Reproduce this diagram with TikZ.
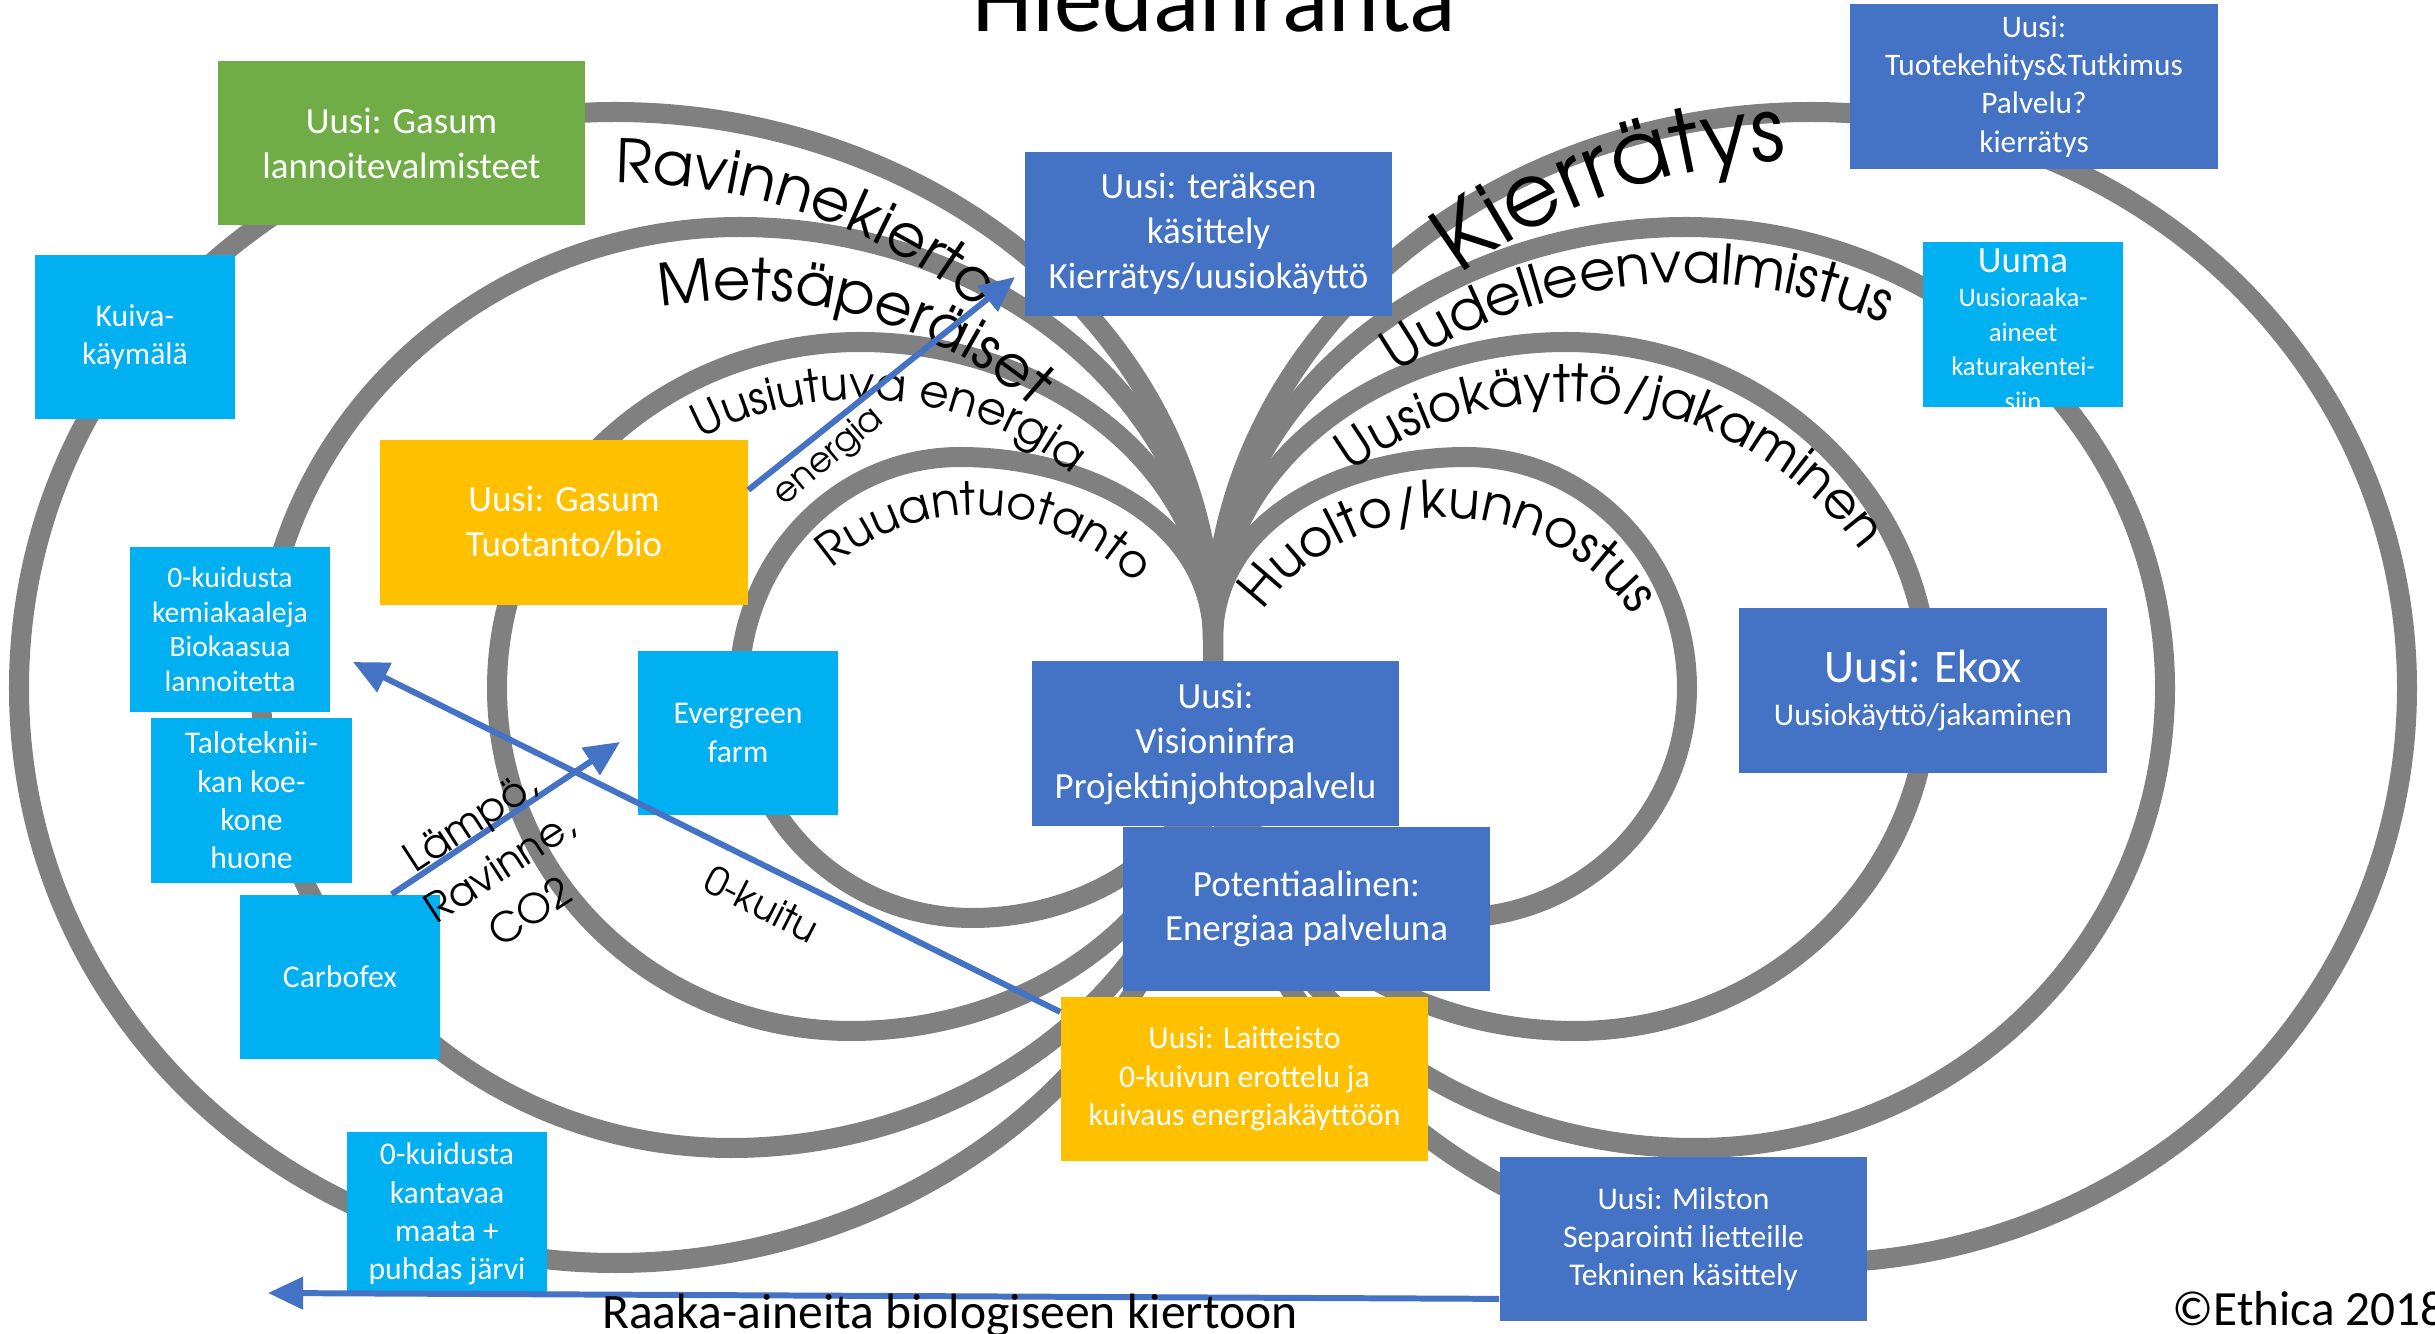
\documentclass[tikz,border=0pt]{standalone}
\usepackage{fontspec}
\setmainfont{Carlito}
\newfontfamily\gothic{TeX Gyre Adventor}
\usepackage{tikz}
\usetikzlibrary{arrows.meta,decorations.text}

\definecolor{loopgrey}{HTML}{808080}
\definecolor{ppblue}{HTML}{4472C4}
\definecolor{ppcyan}{HTML}{00B0F0}
\definecolor{ppgold}{HTML}{FFC000}
\definecolor{ppgreen}{HTML}{70AD47}

\tikzstyle{loopline} = [draw=loopgrey, line width=2mm]
\tikzstyle{pbox} = [rectangle, inner sep=0pt, text=white, align=center, minimum height=16.4mm]
\tikzstyle{widebox} = [pbox, minimum width=36.7mm]
\tikzstyle{narrowbox} = [pbox, minimum width=20mm]
\tikzstyle{flow} = [draw=ppblue, line width=1.7pt, -{Triangle[length=10pt,width=9pt]}]
\tikzstyle{flowlabel} = [inner sep=0pt, align=center, font=\gothic\fontsize{11.5}{15.5}\selectfont]

\newcommand{\bsize}[2]{\fontsize{#1}{#2}\selectfont}
% one figure-eight: top offset, top y, side offset, bottom offset, bottom y
\newcommand{\eightloop}[5]{
	\draw[loopline] (1213,720) -- (1213,640) to[out=90,in=0] ({1213-#1},#2) to[out=180,in=90] ({1213-#3},688)
		to[out=270,in=180] ({1213-#4},#5) to[out=0,in=270] (1213,720) -- (1213,640)
		to[out=90,in=180] ({1213+#1},#2) to[out=0,in=90] ({1213+#3},688)
		to[out=270,in=0] ({1213+#4},#5) to[out=180,in=270] (1213,720);
}
% text on an elliptic arc: cx, cy, rx, ry, start, end, size, text
\newcommand{\arclabel}[8]{
	\path[decorate, decoration={text along path, text align=left, text={|\gothic\fontsize{#7}{#7}\selectfont|#8}}]
		({#1+#3*cos(#5)}, {#2+#4*sin(#5)}) arc[start angle={-(#5)}, end angle={-(#6)}, x radius={#3*0.01cm}, y radius={#4*0.01cm}];
}

\begin{document}
\begin{tikzpicture}[x=0.01cm, y=-0.01cm]
	\useasboundingbox (0,0) rectangle (2435,1334);

	\eightloop{598}{112}{1194}{598}{1263}
	\eightloop{473}{227}{952}{482}{1148}
	\eightloop{353}{342}{716}{362}{1031}
	\eightloop{253}{457}{474}{241}{918}

	\arclabel{615}{640}{527}{457}{-90}{-10}{17}{Ravinnekierto}
	\arclabel{740}{640}{400}{340}{-101.5}{-5}{16.5}{Metsäperäiset}
	\arclabel{860}{655}{300}{255}{-122}{-10}{12.9}{Uusiutuva energia}
	\arclabel{975}{734}{219}{219}{-131}{-20}{13}{Ruuantuotanto}
	\arclabel{1811}{640}{540}{480}{-130.5}{-40}{25}{Kierrätys}
	\arclabel{1686}{795}{512}{512}{-124.4}{-30}{15.8}{Uudelleenvalmistus}
	\arclabel{1566}{768}{366}{366}{-126}{0}{14.6}{Uusiokäyttö/jakaminen}
	\arclabel{1446}{745}{227}{227}{-143.8}{0}{14.7}{Huolto/kunnostus}

	\node[widebox, fill=ppgreen, font=\bsize{10.5}{12.8}] (gasumLannoite) at (401.5,143) {Uusi: Gasum\\lannoitevalmisteet};
	\node[narrowbox, fill=ppcyan, font=\bsize{9}{10.9}] (kuivakaymala) at (135,337) {Kuiva-\\käymälä};
	\node[widebox, fill=ppblue, font=\bsize{10.5}{12.8}] (teras) at (1208.5,234) {Uusi: teräksen\\käsittely\\Kierrätys/uusiokäyttö};
	\node[widebox, fill=ppblue, font=\bsize{8.9}{10.9}] (tuotekehitys) at (2034,86.5) {Uusi:\\Tuotekehitys\&Tutkimus\\Palvelu?\\kierrätys};
	\node[narrowbox, fill=ppcyan] (uuma) at (2023,324.5) {};
	\node[anchor=north, inner sep=0pt, yshift=-1.8pt, text=white, align=center, font=\bsize{7.6}{9.8}] (uumaText) at (uuma.north) {{\bsize{10.5}{12}Uuma}\\Uusioraaka-\\aineet\\katurakentei-\\siin};
	\node[widebox, fill=ppgold, font=\bsize{10.5}{12.8}] (gasumTuotanto) at (564,522.5) {Uusi: Gasum\\Tuotanto/bio};
	\node[narrowbox, fill=ppcyan, font=\bsize{8.4}{9.8}] (kuidustaKemia) at (230,629.5) {0-kuidusta\\kemiakaaleja\\Biokaasua\\lannoitetta};
	\node[narrowbox, fill=ppcyan, font=\bsize{9}{10.9}] (talotekniikka) at (251.5,800.5) {Taloteknii-\\kan koe-\\kone\\huone};
	\node[narrowbox, fill=ppcyan, font=\bsize{9}{10.9}] (evergreen) at (738,733) {Evergreen\\farm};
	\node[widebox, fill=ppblue, font=\bsize{10.5}{12.8}] (visioninfra) at (1215.5,743.5) {Uusi:\\Visioninfra\\Projektinjohtopalvelu};
	\node[widebox, fill=ppblue, font=\bsize{9}{12.5}] (ekox) at (1923,690.5) {{\bsize{13.3}{14}Uusi: Ekox}\\Uusiokäyttö/jakaminen};
	\node[widebox, fill=ppblue, font=\bsize{10.5}{12.4}] (potentiaalinen) at (1306.5,909) {Potentiaalinen:\\Energiaa palveluna};
	\node[narrowbox, fill=ppcyan, font=\bsize{9}{10.9}] (carbofex) at (340,977) {Carbofex};
	\node[widebox, fill=ppgold, font=\bsize{9}{11}] (laitteisto) at (1244.5,1079) {Uusi: Laitteisto\\0-kuivun erottelu ja\\kuivaus energiakäyttöön};
	\node[narrowbox, fill=ppcyan, font=\bsize{9}{10.9}] (kuidustaMaata) at (447,1214) {0-kuidusta\\kantavaa\\maata +\\puhdas järvi};
	\node[widebox, fill=ppblue, font=\bsize{9}{10.9}] (milston) at (1683.5,1239) {Uusi: Milston\\Separointi lietteille\\Tekninen käsittely};

	\coordinate (energiaEnd) at (1015,277);
	\coordinate (kuituEnd) at (353,662);
	\coordinate (lampoEnd) at (620,742);
	\coordinate (raakaEnd) at (268,1293);
	\draw[flow] (gasumTuotanto.10) -- (energiaEnd);
	\draw[flow] (laitteisto.160) -- (kuituEnd);
	\draw[flow] (carbofex.58) -- (lampoEnd);
	\draw[flow] (milston.198) -- (raakaEnd);

	\node[flowlabel, rotate=40, font=\gothic\fontsize{10}{12}\selectfont] (energiaLbl) at (829,457) {energia};
	\node[flowlabel, rotate=-27, font=\gothic\fontsize{11}{13}\selectfont] (kuituLbl) at (762,904) {0-kuitu};
	\node[flowlabel, rotate=33] (lampoLbl) at (500,866) {Lämpö,\\Ravinne,\\CO2};

	\node[inner sep=0pt, anchor=base, font=\bsize{27.5}{30}] (title) at (1214,32) {Hiedanranta};
	\node[inner sep=0pt, anchor=base, font=\bsize{14.1}{17}] (raakaLbl) at (950,1328) {Raaka-aineita biologiseen kiertoon};
	\node[inner sep=0pt, anchor=base west, font=\bsize{14}{17}] (ethica) at (2172,1325) {©Ethica 2018};
\end{tikzpicture}
\end{document}
